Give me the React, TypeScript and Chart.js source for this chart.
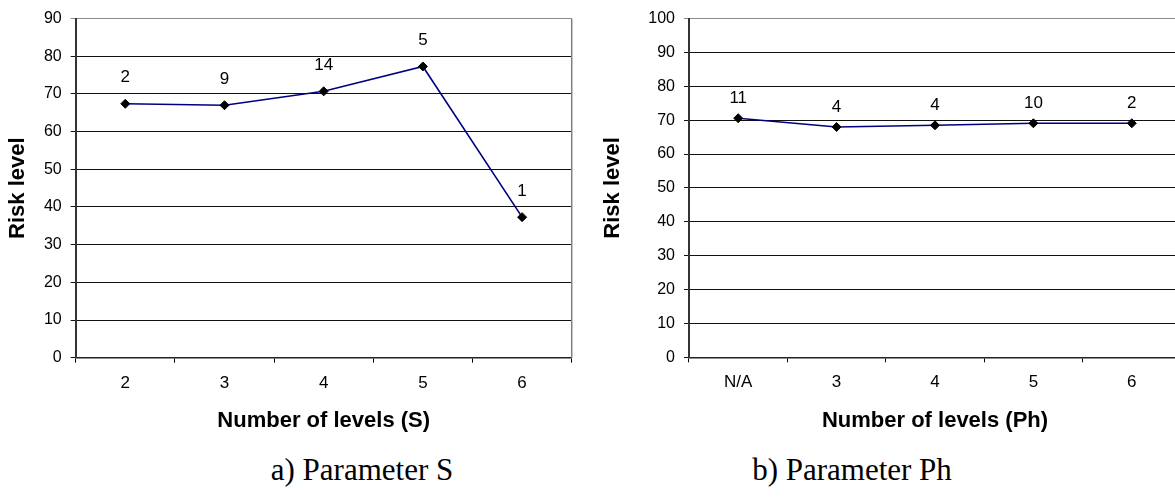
import React, { useEffect, useRef } from 'react';
import { Chart, registerables } from 'chart.js';

Chart.register(...registerables);

// ---- Data ----
const levelsS = ['2', '3', '4', '5', '6'];
const riskS = [67.4, 67.0, 70.7, 77.3, 37.3];
const countsS = ['2', '9', '14', '5', '1'];

const levelsPh = ['N/A', '3', '4', '5', '6'];
const riskPh = [70.6, 68.0, 68.5, 69.1, 69.1];
const countsPh = ['11', '4', '4', '10', '2'];

const yMaxS = 90;
const yMaxPh = 100;
const yStep = 10;

const SANS = '"Liberation Sans", Arial, sans-serif';

const countLabelPlugin = {
  id: 'countLabels',
  afterDatasetsDraw(chart: any, _args: any, opts: any) {
    const { ctx } = chart;
    const meta = chart.getDatasetMeta(0);
    ctx.save();
    ctx.font = `17px ${SANS}`;
    ctx.fillStyle = '#000';
    ctx.textAlign = 'center';
    ctx.textBaseline = 'middle';
    meta.data.forEach((pt: any, i: number) => {
      ctx.fillText(opts.labels[i], pt.x, pt.y - opts.offset);
    });
    ctx.restore();
  },
};

const frameBorderPlugin = {
  id: 'frameBorder',
  beforeDatasetsDraw(chart: any, _args: any, opts: any) {
    if (!opts.right) return;
    const { ctx, chartArea } = chart;
    ctx.save();
    ctx.strokeStyle = '#808080';
    ctx.lineWidth = 1.5;
    ctx.beginPath();
    ctx.moveTo(chartArea.right, chartArea.top);
    ctx.lineTo(chartArea.right, chartArea.bottom);
    ctx.stroke();
    ctx.restore();
  },
};

type PanelProps = {
  left: number;
  width: number;
  height: number;
  padTop: number;
  padRight: number;
  yAxisWidth: number;
  xAxisHeight: number;
  labels: string[];
  values: number[];
  counts: string[];
  yMax: number;
  xTitle: string;
  labelOffset: number;
  rightBorder: boolean;
};

function Panel(p: PanelProps) {
  const ref = useRef<HTMLCanvasElement | null>(null);
  useEffect(() => {
    if (!ref.current) return;
    const chart = new Chart(ref.current, {
      type: 'line',
      data: {
        labels: p.labels,
        datasets: [
          {
            data: p.values,
            borderColor: '#000080',
            borderWidth: 1.6,
            pointStyle: 'rectRot',
            pointRadius: 4.5,
            pointBackgroundColor: '#000',
            pointBorderColor: '#000',
            pointBorderWidth: 1,
            tension: 0,
            fill: false,
          },
        ],
      },
      options: {
        animation: false,
        responsive: false,
        events: [],
        layout: { padding: { top: p.padTop, right: p.padRight, left: 0, bottom: 0 } },
        plugins: {
          legend: { display: false },
          tooltip: { enabled: false },
          countLabels: { labels: p.counts, offset: p.labelOffset },
          frameBorder: { right: p.rightBorder },
        } as any,
        scales: {
          x: {
            type: 'category',
            offset: true,
            grid: {
              offset: true,
              drawOnChartArea: false,
              drawTicks: true,
              tickLength: 5,
              color: '#000',
              lineWidth: 1,
            },
            border: { display: true, color: '#222', width: 1.5 },
            ticks: { color: '#000', font: { family: SANS, size: 17 }, padding: 10, maxRotation: 0 },
            title: {
              display: true,
              text: p.xTitle,
              color: '#000',
              font: { family: SANS, size: 22, weight: 'bold' },
              padding: { top: 0, bottom: 6.2 },
            },
            afterFit: (s: any) => {
              s.height = p.xAxisHeight;
            },
          },
          y: {
            min: 0,
            max: p.yMax,
            ticks: {
              stepSize: yStep,
              color: '#000',
              font: { family: SANS, size: 16 },
              padding: 9,
            },
            grid: {
              color: (ctx: any) => (ctx.tick && ctx.tick.value === p.yMax ? '#8a8a8a' : '#111'),
              lineWidth: 1,
              drawTicks: true,
              tickLength: 5,
            },
            border: { display: true, color: '#333', width: 2 },
            title: {
              display: true,
              text: 'Risk level',
              color: '#000',
              font: { family: SANS, size: 22, weight: 'bold' },
              padding: { top: 4.5, bottom: 0 },
            },
            afterFit: (s: any) => {
              s.width = p.yAxisWidth;
            },
          },
        },
      },
      plugins: [countLabelPlugin, frameBorderPlugin],
    });
    return () => chart.destroy();
  }, []);
  return (
    <canvas
      ref={ref}
      width={p.width}
      height={p.height}
      style={{ position: 'absolute', left: p.left, top: 0, width: p.width, height: p.height }}
    />
  );
}

const captionStyle: React.CSSProperties = {
  position: 'absolute',
  top: 452,
  width: 400,
  textAlign: 'center',
  fontFamily: '"Liberation Serif", "Times New Roman", serif',
  fontSize: 31,
  lineHeight: '36px',
  color: '#000',
  whiteSpace: 'nowrap',
};

export default function App() {
  return (
    <div
      style={{
        position: 'absolute',
        left: 0,
        top: 0,
        width: 1175,
        height: 502,
        overflow: 'hidden',
        background: '#fff',
      }}
    >
      <Panel
        left={0}
        width={590}
        height={440}
        padTop={18}
        padRight={18.3}
        yAxisWidth={75.7}
        xAxisHeight={82.3}
        labels={levelsS}
        values={riskS}
        counts={countsS}
        yMax={yMaxS}
        xTitle="Number of levels (S)"
        labelOffset={26}
        rightBorder={true}
      />
      <Panel
        left={595}
        width={600}
        height={440}
        padTop={15.7}
        padRight={14}
        yAxisWidth={94}
        xAxisHeight={82.7}
        labels={levelsPh}
        values={riskPh}
        counts={countsPh}
        yMax={yMaxPh}
        xTitle="Number of levels (Ph)"
        labelOffset={20}
        rightBorder={false}
      />
      <div style={{ ...captionStyle, left: 362 - 200 }}>a) Parameter S</div>
      <div style={{ ...captionStyle, left: 852 - 200 }}>b) Parameter Ph</div>
    </div>
  );
}
